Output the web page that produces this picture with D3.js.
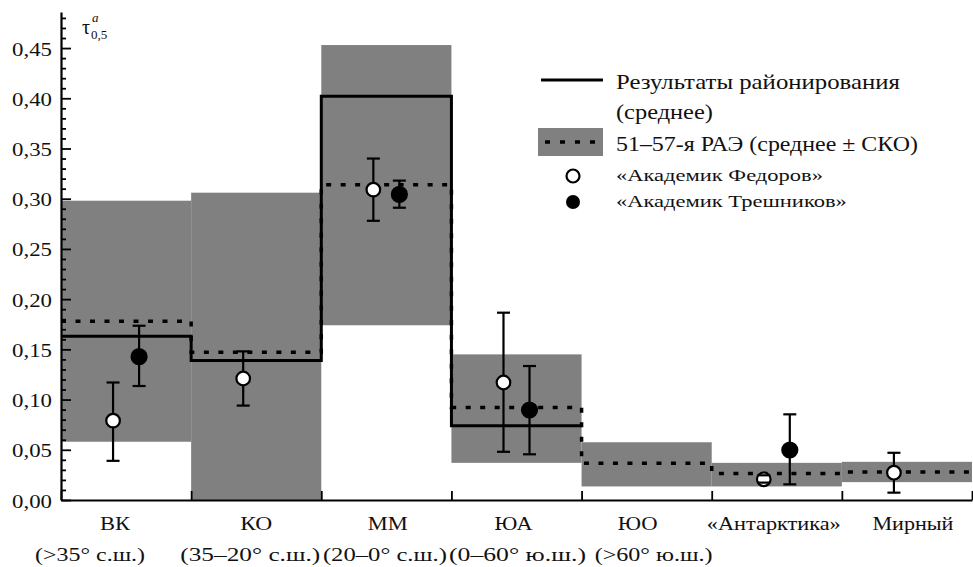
<!DOCTYPE html>
<html><head><meta charset="utf-8">
<script src="https://cdn.jsdelivr.net/npm/d3@7/dist/d3.min.js"></script>
<style>body{margin:0;background:#fff;}</style></head>
<body><svg id="c" width="973" height="567"></svg>
<script>
// ---- data ----
const categories = ["ВК","КО","ММ","ЮА","ЮО","«Антарктика»","Мирный"];
const subLabels = ["(>35° с.ш.)","(35–20° с.ш.)","(20–0° с.ш.)","(0–60° ю.ш.)","(>60° ю.ш.)","",""];
const raeMean = [0.178,0.147,0.314,0.092,0.0365,0.0265,0.028];
const raeLow  = [0.058,0.0,0.174,0.037,0.0135,0.0135,0.0178];
const raeHigh = [0.298,0.306,0.453,0.145,0.0575,0.037,0.038];
const zoning  = [0.163,0.139,0.402,0.074];
const fedorov    = [0.079,0.121,0.309,0.117,null,0.0206,0.0272];
const fedorovLo  = [0.039,0.094,0.278,0.048,null,0.0173,0.0073];
const fedorovHi  = [0.117,0.148,0.340,0.1865,null,0.0246,0.047];
const treshnikov   = [0.1427,null,0.3043,0.0896,null,0.0498,null];
const treshnikovLo = [0.1135,null,0.291,0.0455,null,0.0156,null];
const treshnikovHi = [0.1735,null,0.318,0.1334,null,0.0853,null];
const yTickValues = [0,0.05,0.10,0.15,0.20,0.25,0.30,0.35,0.40,0.45];
const yTickLabels = ["0,00","0,05","0,10","0,15","0,20","0,25","0,30","0,35","0,40","0,45"];
const legendLabels = ["Результаты районирования","(среднее)","51–57-я РАЭ (среднее ± СКО)","«Академик Федоров»","«Академик Трешников»"];

// ---- layout / style ----
const FONT = '"Liberation Serif"';
const catLabelDx = [-11,0,1.5,-3,-9,-3,6];
const subLabelDx = [-36,-6,-1.5,1,7,0,0];
const catLabelW = [30,32,40,38,40,134,81];
const subLabelW = [110,140,124,137,118,0,0];

const svg = d3.select("#c");
const x = d3.scaleLinear().domain([0,7]).range([61,972]);
const y = d3.scaleLinear().domain([0,0.486]).range([500,11.9]);
const grey = "#808080";

// text drawn at natural font, stretched horizontally to the reference width
function fitText(parent, str, px, py, size, targetW, anchor){
  const g = parent.append("g").attr("transform",`translate(${px},${py})`);
  const t = g.append("text").attr("font-size",size).style("font-family",FONT)
    .attr("fill","#111").attr("text-anchor",anchor||"start").text(str);
  if(targetW){ const w = t.node().getComputedTextLength(); if(w>0) t.attr("transform",`scale(${(targetW/w).toFixed(4)},1)`); }
  return t;
}

// bands
svg.append("g").selectAll("rect").data(categories).join("rect")
  .attr("x",(d,i)=>x(i)).attr("width",(d,i)=>x(i+1)-x(i))
  .attr("y",(d,i)=>y(raeHigh[i])).attr("height",(d,i)=>y(raeLow[i])-y(raeHigh[i]))
  .attr("fill",grey);

// step lines
function stepPts(arr){const p=[];arr.forEach((v,i)=>{p.push([i,v]);p.push([i+1,v]);});return p;}
const line = d3.line().x(d=>x(d[0])).y(d=>y(d[1]));
svg.append("path").attr("d",line(stepPts(raeMean))).attr("fill","none")
  .attr("stroke","#000").attr("stroke-width",3.5).attr("stroke-dasharray","5,9.5");
svg.append("path").attr("d",line(stepPts(zoning))).attr("fill","none")
  .attr("stroke","#000").attr("stroke-width",3);

// error bars & points
function series(vals,lo,hi,off,fill){
  const data = vals.map((v,i)=>({i,v,lo:lo[i],hi:hi[i]})).filter(d=>d.v!==null);
  const g = svg.append("g");
  g.selectAll("line.stem").data(data).join("line")
    .attr("x1",d=>x(d.i+off)).attr("x2",d=>x(d.i+off))
    .attr("y1",d=>y(d.lo)).attr("y2",d=>y(d.hi))
    .attr("stroke","#000").attr("stroke-width",2.2);
  g.selectAll("circle").data(data).join("circle")
    .attr("cx",d=>x(d.i+off)).attr("cy",d=>y(d.v)).attr("r",fill?7.5:6.8)
    .attr("fill",fill?"#000":"#fff").attr("stroke","#000").attr("stroke-width",2.2);
  ["lo","hi"].forEach(k=>{
    g.selectAll("line.cap"+k).data(data).join("line")
      .attr("x1",d=>x(d.i+off)-6.5).attr("x2",d=>x(d.i+off)+6.5)
      .attr("y1",d=>y(d[k])).attr("y2",d=>y(d[k]))
      .attr("stroke","#000").attr("stroke-width",2.2);
  });
}
series(fedorov,fedorovLo,fedorovHi,0.4,false);
series(treshnikov,treshnikovLo,treshnikovHi,0.6,true);

// axes
const yMinor = d3.range(0,0.485,0.01).filter(v=>Math.round(v*100)%5!==0);
svg.append("g").attr("transform","translate(61,0)")
  .call(d3.axisLeft(y).tickValues(yMinor).tickSize(-5).tickSizeOuter(0).tickFormat(""))
  .call(g=>{g.select(".domain").remove();g.selectAll("line").attr("stroke","#000").attr("stroke-width",1.8);});
svg.append("g").attr("transform","translate(61,0)")
  .call(d3.axisLeft(y).tickValues(yTickValues).tickSize(-10).tickSizeOuter(0).tickFormat(""))
  .call(g=>{g.select(".domain").attr("stroke","#000").attr("stroke-width",2.2);
            g.selectAll("line").attr("stroke","#000").attr("stroke-width",1.8);
            g.selectAll("text").remove();});
const yl = svg.append("g");
yTickValues.forEach((v,i)=>fitText(yl, yTickLabels[i], 52, y(v)+7.5, 19, 40, "end"));
svg.append("g").attr("transform","translate(0,500)")
  .call(d3.axisBottom(x).tickValues(d3.range(0,8)).tickSize(-9).tickSizeOuter(0).tickFormat(""))
  .call(g=>{g.select(".domain").attr("stroke","#000").attr("stroke-width",2.2);
            g.selectAll("line").attr("stroke","#000").attr("stroke-width",1.8);
            g.selectAll("text").remove();});

// category labels
const cl = svg.append("g");
categories.forEach((c,i)=>fitText(cl, c, x(i+0.5)+catLabelDx[i], 530, 18, catLabelW[i], "middle"));
subLabels.forEach((c,i)=>{ if(c) fitText(cl, c, x(i+0.5)+subLabelDx[i], 561, 18, subLabelW[i], "middle"); });

// y title
const yt = svg.append("g");
fitText(yt, "τ", 82, 34, 20, 0, "start");
fitText(yt, "a", 92, 22, 13, 0, "start").attr("font-style","italic");
fitText(yt, "0,5", 91, 39, 13, 0, "start");

// legend
const lg = svg.append("g");
lg.append("line").attr("x1",541).attr("x2",603).attr("y1",80).attr("y2",80).attr("stroke","#000").attr("stroke-width",3);
lg.append("rect").attr("x",538).attr("y",128).attr("width",65).attr("height",28).attr("fill",grey);
lg.append("line").attr("x1",545).attr("x2",600).attr("y1",142).attr("y2",142).attr("stroke","#000").attr("stroke-width",3.5).attr("stroke-dasharray","5,10");
lg.append("circle").attr("cx",573).attr("cy",176).attr("r",6.5).attr("fill","#fff").attr("stroke","#000").attr("stroke-width",2.2);
lg.append("circle").attr("cx",573).attr("cy",202).attr("r",7).attr("fill","#000");
const lgY = [89,119,151,181,207];
const lgSize = [20,20,20,17,17];
const lgW = [284,97,302,207,231];
legendLabels.forEach((s,i)=>fitText(lg, s, 616, lgY[i], lgSize[i], lgW[i], "start"));
</script></body></html>
